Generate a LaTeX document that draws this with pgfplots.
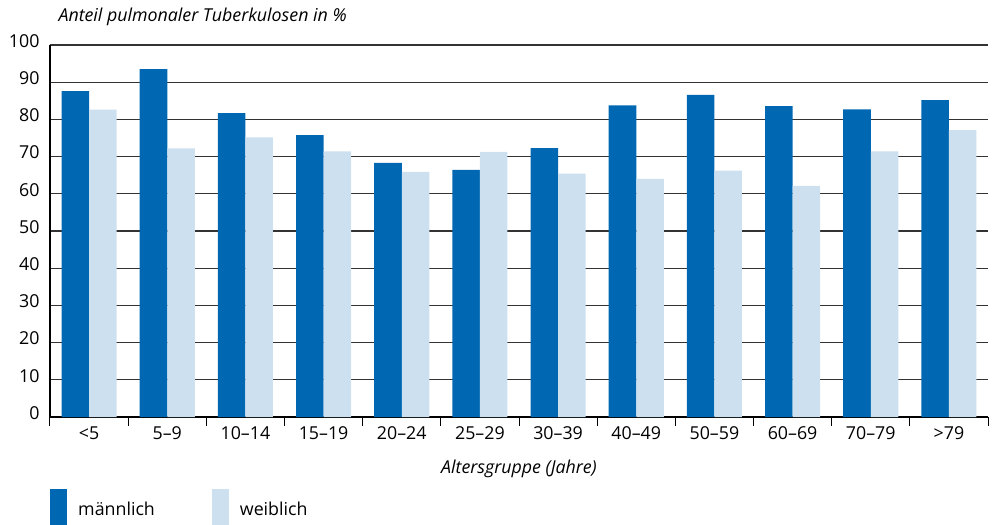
\documentclass[border=0pt]{standalone}
\usepackage{fontspec}
\setmainfont{Open Sans}
\usepackage{pgfplots}
\pgfplotsset{compat=1.18}
\definecolor{maleblue}{HTML}{0068B3}
\definecolor{femaleblue}{HTML}{CCE0EF}
\definecolor{gridgray}{HTML}{333333}

\begin{document}
\begin{tikzpicture}[font=\fontsize{17.8bp}{21bp}\selectfont]
\path[use as bounding box] (-50bp,-108bp) rectangle (943bp,417bp);
\begin{axis}[
  at={(0,0)}, anchor=south west,
  width=938bp, height=372bp, scale only axis,
  xmin=-0.5, xmax=11.5, ymin=0, ymax=100,
  clip mode=individual,
  ybar=0pt, bar width=0.352,
  axis x line*=bottom, axis y line*=left,
  axis line style={black, line width=1.1bp},
  xtick={0,...,11},
  xticklabels={<5,5--9,10--14,15--19,20--24,25--29,30--39,40--49,50--59,60--69,70--79,>79},
  minor xtick={-0.5,0.5,...,11.5},
  ytick={0,10,...,100},
  major tick length=0pt, minor tick length=9bp, tick align=outside,
  minor tick style={black, line width=1bp},
  ymajorgrids, grid style={gridgray, line width=1.1bp},
  tick label style={font=\fontsize{17.8bp}{21bp}\selectfont},
  /pgf/number format/assume math mode=true,
  yticklabel style={xshift=-7bp, yshift=4bp},
  xticklabel style={yshift=-6bp},
  xlabel={\itshape Altersgruppe (Jahre)},
  xlabel style={font=\fontsize{17.8bp}{21bp}\selectfont, yshift=-14bp},
  legend style={at={(axis description cs:0,0)}, anchor=north west, yshift=-72bp,
    draw=none, fill=none, inner sep=0pt,
    font=\fontsize{17.8bp}{21bp}\selectfont,
    nodes={inner xsep=11bp, inner ysep=1bp},
    /tikz/every even column/.append style={column sep=46bp}},
  legend columns=2, legend cell align=left,
  legend image code/.code={\fill[#1, draw=none] (0bp,-18bp) rectangle (17bp,20bp);},
]
\addplot[fill=maleblue, draw=none] coordinates {
  (0,87.6) (1,93.5) (2,81.7) (3,75.8) (4,68.3) (5,66.4)
  (6,72.3) (7,83.8) (8,86.6) (9,83.6) (10,82.7) (11,85.2)};
\addplot[fill=femaleblue, draw=none] coordinates {
  (0,82.6) (1,72.2) (2,75.2) (3,71.4) (4,65.9) (5,71.3)
  (6,65.4) (7,64.0) (8,66.2) (9,62.1) (10,71.4) (11,77.1)};
\legend{männlich, weiblich}
\node[anchor=base west, font=\fontsize{17.8bp}{21bp}\selectfont\itshape]
  at (rel axis cs:0,1) [xshift=5bp, yshift=23bp] {Anteil pulmonaler Tuberkulosen in \%};
\end{axis}
\end{tikzpicture}
\end{document}
